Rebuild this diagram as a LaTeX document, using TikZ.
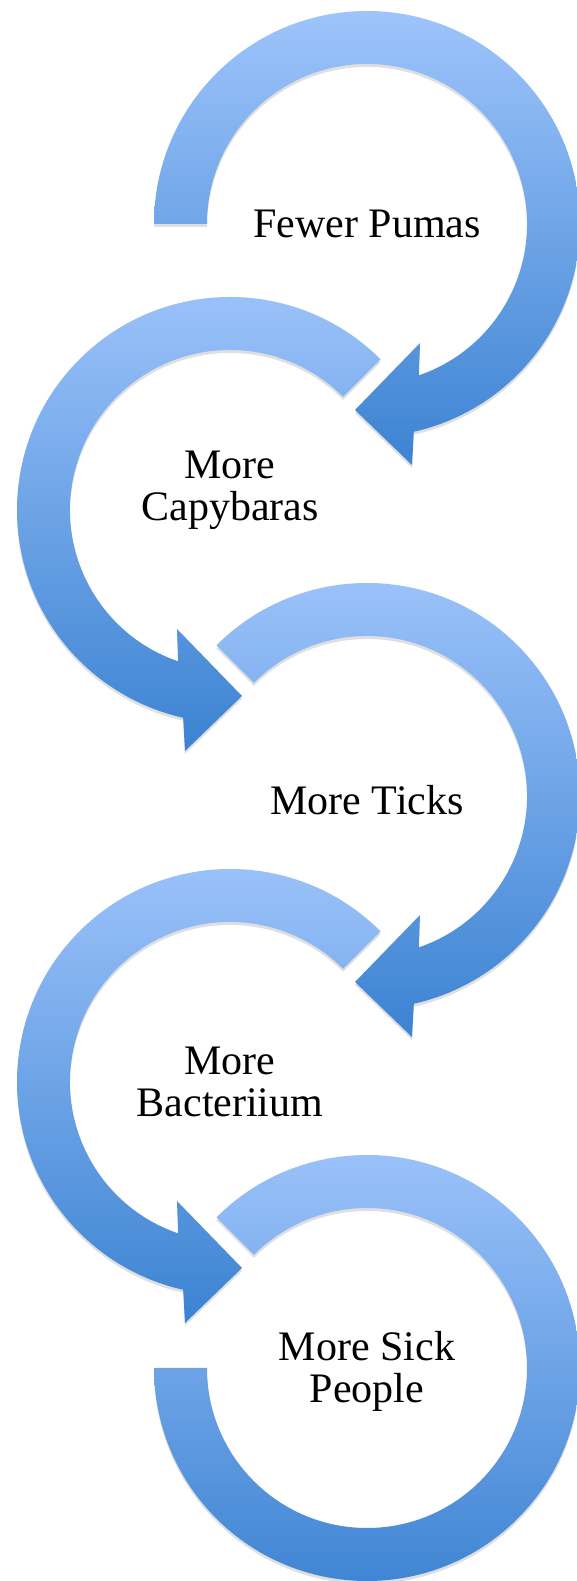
\documentclass[tikz,border=0pt]{standalone}
\usepackage{fontspec}
\setmainfont{Liberation Serif}
\usetikzlibrary{shadows}

\definecolor{ringtop}{RGB}{158,196,251}
\definecolor{ringmid}{RGB}{136,181,244}
\definecolor{ringbot}{RGB}{60,131,210}

\begin{document}
\begin{tikzpicture}[x=1pt,y=1pt,
    ring/.style={top color=ringtop,middle color=ringmid,bottom color=ringbot,draw=none,
        drop shadow={opacity=0.25,shadow xshift=0pt,shadow yshift=-3pt}}]
\useasboundingbox (0,0) rectangle (576,1581);
% centres of the five rings
\coordinate (c1) at (367,1357);
\coordinate (c2) at (230,1071);
\coordinate (c3) at (367,785);
\coordinate (c4) at (230,499);
\coordinate (c5) at (367,213);
% rings, arrowhead drawn at the lower left of each (mirrored for the left ones)
\path[ring,shift={(c1)}] (180:213) arc[start angle=180,end angle=-77.3,radius=213]
    -- (45,-241) -- (-12,-186) -- (53,-119)
    -- (-71.1:160) arc[start angle=-71.1,end angle=180,radius=160] -- cycle;
\path[ring,shift={(c2)},xscale=-1] (135:213) arc[start angle=135,end angle=-77.3,radius=213]
    -- (45,-241) -- (-12,-186) -- (53,-119)
    -- (-71.1:160) arc[start angle=-71.1,end angle=135,radius=160] -- cycle;
\path[ring,shift={(c3)}] (135:213) arc[start angle=135,end angle=-77.3,radius=213]
    -- (45,-241) -- (-12,-186) -- (53,-119)
    -- (-71.1:160) arc[start angle=-71.1,end angle=135,radius=160] -- cycle;
\path[ring,shift={(c4)},xscale=-1] (135:213) arc[start angle=135,end angle=-77.3,radius=213]
    -- (45,-241) -- (-12,-186) -- (53,-119)
    -- (-71.1:160) arc[start angle=-71.1,end angle=135,radius=160] -- cycle;
\path[ring,shift={(c5)}] (135:213) arc[start angle=135,end angle=-180,radius=213]
    -- (-180:160) arc[start angle=-180,end angle=135,radius=160] -- cycle;
% labels
\begin{scope}[every node/.style={align=center,inner sep=0pt,
        font=\fontsize{42}{42}\selectfont}]
    \node (pumas) at (c1) {Fewer Pumas};
    \node (capy) at ([yshift=20]c2) {More\\Capybaras};
    \node (ticks) at ([yshift=-4]c3) {More Ticks};
    \node (bact) at (c4) {More\\Bacteriium};
    \node (sick) at ([yshift=-3]c5) {More Sick\\People};
\end{scope}
\end{tikzpicture}
\end{document}
